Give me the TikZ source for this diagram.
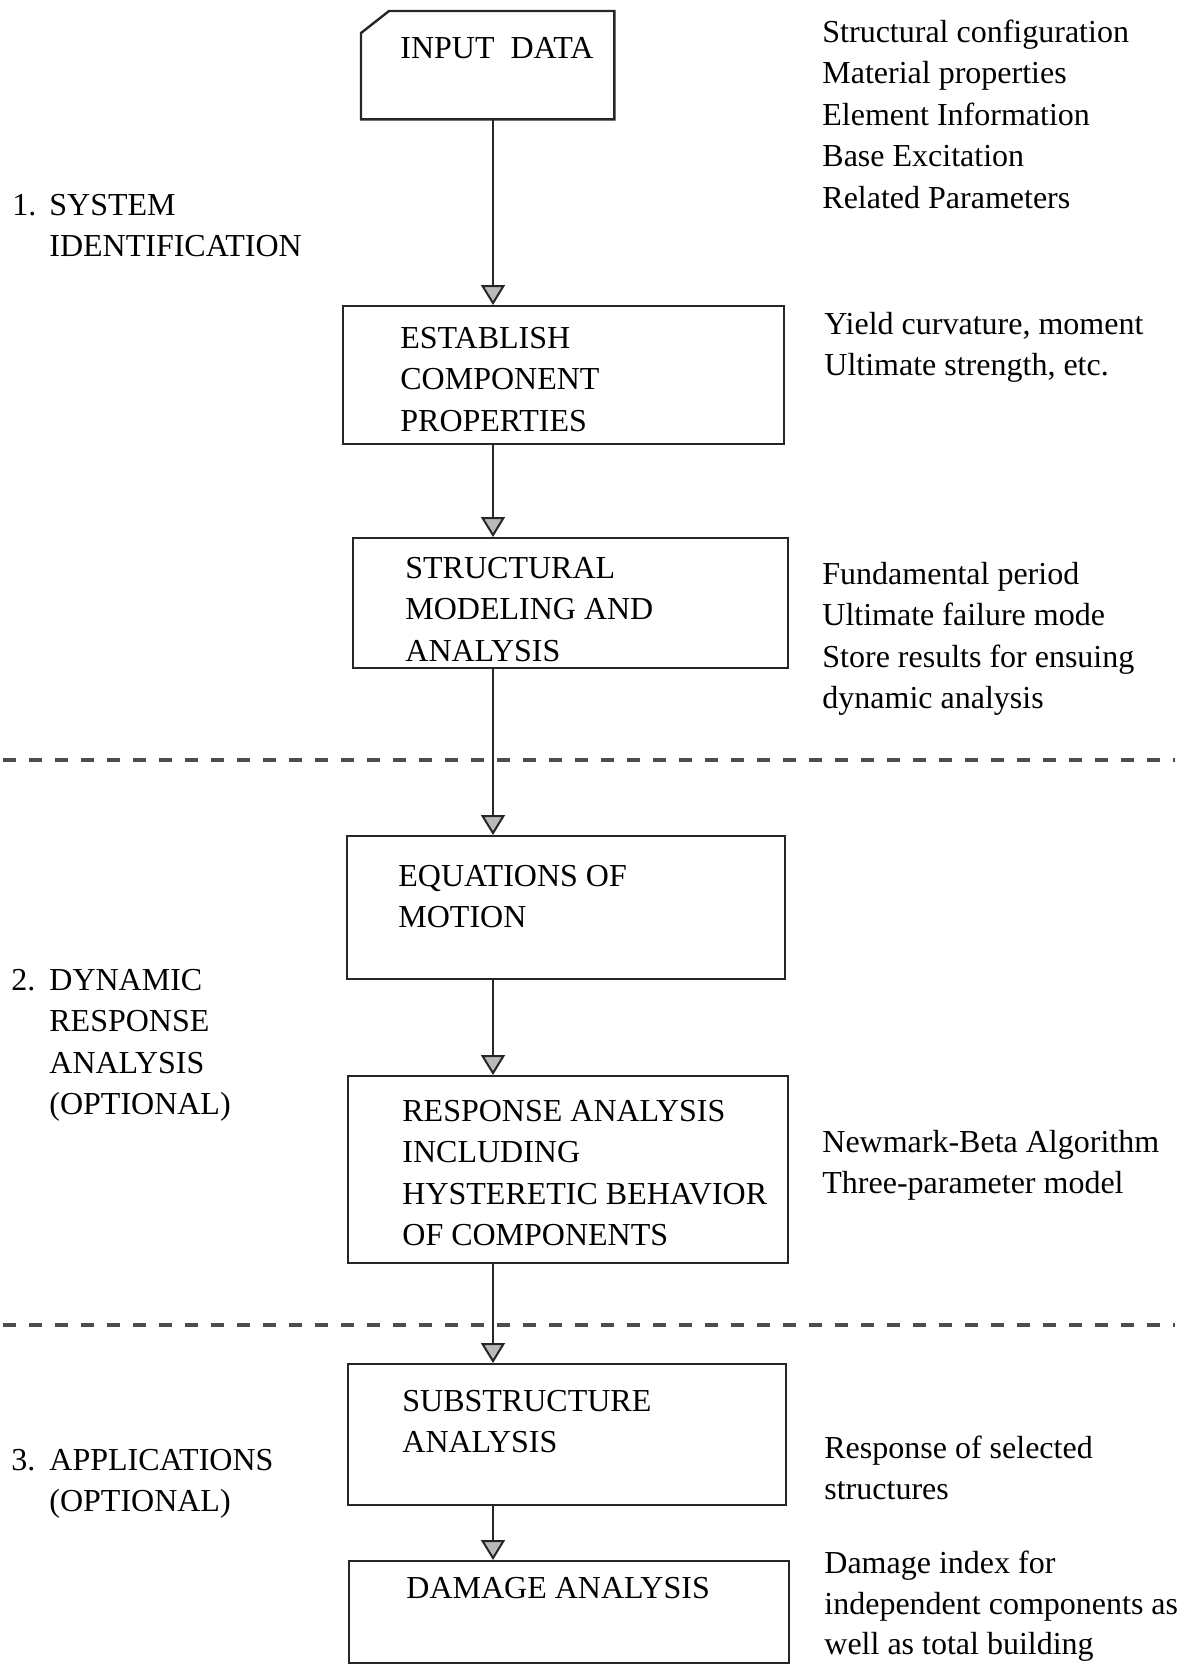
\documentclass[tikz,border=0pt]{standalone}
\usepackage{fontspec}
\setmainfont{Liberation Serif}
\usetikzlibrary{arrows.meta}

\tikzset{
  box/.style={draw=black!85, line width=1.2pt, anchor=north west, inner sep=0pt},
  txt/.style={anchor=north west, inner sep=0pt, align=left, font=\fontsize{16}{20.75}\selectfont},
  flow/.style={draw=black!85, line width=1pt, -{Triangle[width=12pt,length=10pt,fill=gray!55]}},
  divider/.style={draw=black!70, line width=2.2pt, dash pattern=on 6.5pt off 6.5pt}
}

\begin{document}
\begin{tikzpicture}[x=0.5pt, y=-0.5pt]
\useasboundingbox (0,0) rectangle (1191,1667);

% boxes
\node[box, draw=none, minimum width=125.5pt, minimum height=53pt] (input) at (361,11) {};
\draw[draw=black!85, line width=1.2pt] (input.south west) -- ([yshift=-11pt]input.north west)
  -- ([xshift=14pt]input.north west) -- (input.north east) -- (input.south east) -- cycle;
\node[txt] (tinput) at (400,29) {\strut INPUT\ \ DATA};

\node[box, minimum width=220.5pt, minimum height=69pt] (establish) at (342,305) {};
\node[txt] (testablish) at (400,319) {\strut ESTABLISH\\COMPONENT\\PROPERTIES};

\node[box, minimum width=217.5pt, minimum height=65pt] (model) at (352,537) {};
\node[txt] (tmodel) at (405,549) {\strut STRUCTURAL\\MODELING AND\\ANALYSIS};

\node[box, minimum width=219pt, minimum height=71.5pt] (motion) at (346,835) {};
\node[txt] (tmotion) at (398,857) {\strut EQUATIONS OF\\MOTION};

\node[box, minimum width=220pt, minimum height=93.5pt] (response) at (347,1075) {};
\node[txt] (tresponse) at (402,1092) {\strut RESPONSE ANALYSIS\\INCLUDING\\HYSTERETIC BEHAVIOR\\OF COMPONENTS};

\node[box, minimum width=219pt, minimum height=70.5pt] (substructure) at (347,1363) {};
\node[txt] (tsubstructure) at (402,1382) {\strut SUBSTRUCTURE\\ANALYSIS};

\node[box, minimum width=220pt, minimum height=51pt] (damage) at (348,1560) {};
\node[txt] (tdamage) at (406,1569) {\strut DAMAGE ANALYSIS};

% arrows
\coordinate (ax) at (493,0);
\draw[flow] (input.south -| ax) -- (establish.north -| ax);
\draw[flow] (establish.south -| ax) -- (model.north -| ax);
\draw[flow] (model.south -| ax) -- (motion.north -| ax);
\draw[flow] (motion.south -| ax) -- (response.north -| ax);
\draw[flow] (response.south -| ax) -- (substructure.north -| ax);
\draw[flow] (substructure.south -| ax) -- (damage.north -| ax);

% dividers
\coordinate (d1a) at (3,760);
\coordinate (d1b) at (1175,760);
\coordinate (d2a) at (3,1325);
\coordinate (d2b) at (1175,1325);
\draw[divider] (d1a) -- (d1b);
\draw[divider] (d2a) -- (d2b);

% stages
\node[txt] (num1) at (12,186) {\strut 1.};
\node[txt] (stage1) at (49,186) {\strut SYSTEM\\IDENTIFICATION};
\node[txt] (num2) at (11,961) {\strut 2.};
\node[txt] (stage2) at (49,961) {\strut DYNAMIC\\RESPONSE\\ANALYSIS\\(OPTIONAL)};
\node[txt] (num3) at (11,1441) {\strut 3.};
\node[txt] (stage3) at (49,1441) {\strut APPLICATIONS\\(OPTIONAL)};

% notes
\node[txt] (note1) at (822,13) {\strut Structural configuration\\Material properties\\Element Information\\Base Excitation\\Related Parameters};
\node[txt] (note2) at (824,305) {\strut Yield curvature, moment\\Ultimate strength, etc.};
\node[txt] (note3) at (822,555) {\strut Fundamental period\\Ultimate failure mode\\Store results for ensuing\\dynamic analysis};
\node[txt] (note4) at (822,1123) {\strut Newmark-Beta Algorithm\\Three-parameter model};
\node[txt] (note5) at (824,1429) {\strut Response of selected\\structures};
\node[txt, font=\fontsize{16}{20.25}\selectfont] (note6) at (824,1545) {\strut Damage index for\\independent components as\\well as total building};

\end{tikzpicture}
\end{document}
